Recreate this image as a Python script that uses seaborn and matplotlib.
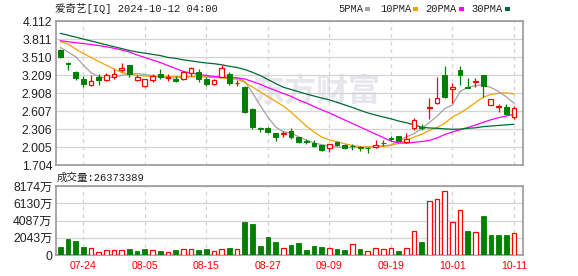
import numpy as np
import matplotlib
matplotlib.use("Agg")
import matplotlib.pyplot as plt
import matplotlib.transforms as mtransforms
import seaborn as sns
from matplotlib.patches import Rectangle

# ---------------- data ----------------
title = "爱奇艺[IQ] 2024-10-12 04:00"
vol_title = "成交量:26373389"
dates = ["07-19", "07-22", "07-23", "07-24", "07-25", "07-26", "07-29", "07-30", "07-31", "08-01",
         "08-02", "08-05", "08-06", "08-07", "08-08", "08-09", "08-12", "08-13", "08-14", "08-15",
         "08-16", "08-19", "08-20", "08-21", "08-22", "08-23", "08-26", "08-27", "08-28", "08-29",
         "08-30", "09-03", "09-04", "09-05", "09-06", "09-09", "09-10", "09-11", "09-12", "09-13",
         "09-16", "09-17", "09-18", "09-19", "09-20", "09-23", "09-24", "09-25", "09-26", "09-27",
         "09-30", "10-01", "10-02", "10-03", "10-04", "10-07", "10-08", "10-09", "10-10", "10-11"]
date_ticks = ["07-24", "08-05", "08-15", "08-27", "09-09", "09-19", "10-01", "10-11"]

open_ = [3.627, 3.415, 3.264, 3.142, 3.047, 3.170, 3.125, 3.170, 3.298, 3.376,
         3.125, 3.030, 3.125, 3.226, 3.165, 3.142, 3.137, 3.237, 3.259, 3.142,
         3.059, 3.181, 3.226, 3.070, 3.003, 2.636, 2.318, 2.328, 2.234, 2.223,
         2.278, 2.167, 2.100, 2.077, 2.039, 1.983, 2.083, 2.039, 2.030, 2.000,
         1.995, 2.000, 2.072, 2.150, 2.189, 2.094, 2.328, 2.340, 2.657, 2.746,
         3.209, 2.970, 3.298, 3.003, 3.097, 3.209, 2.707, 2.669, 2.679, 2.512]
high = [3.640, 3.432, 3.281, 3.192, 3.209, 3.226, 3.235, 3.304, 3.415, 3.380,
        3.209, 3.140, 3.226, 3.309, 3.226, 3.192, 3.270, 3.338, 3.309, 3.170,
        3.150, 3.376, 3.264, 3.125, 3.030, 2.652, 2.344, 2.340, 2.244, 2.268,
        2.318, 2.177, 2.134, 2.122, 2.045, 2.058, 2.111, 2.055, 2.055, 2.022,
        2.011, 2.122, 2.122, 2.194, 2.190, 2.234, 2.485, 2.390, 2.829, 3.181,
        3.360, 3.070, 3.360, 3.164, 3.154, 3.212, 2.806, 2.729, 2.724, 2.690]
low = [3.490, 3.293, 3.125, 3.013, 3.025, 3.042, 3.109, 3.142, 3.259, 3.181,
       3.104, 3.013, 3.092, 3.147, 3.109, 3.092, 3.130, 3.192, 3.098, 3.025,
       3.037, 3.170, 3.042, 3.025, 2.568, 2.306, 2.261, 2.234, 2.097, 2.172,
       2.139, 2.077, 2.055, 2.000, 1.938, 1.927, 2.022, 1.966, 1.955, 1.943,
       1.910, 1.986, 2.022, 2.111, 2.105, 2.077, 2.290, 2.290, 2.473, 2.729,
       2.819, 2.746, 3.042, 2.987, 3.008, 2.841, 2.704, 2.595, 2.540, 2.468]
close = [3.505, 3.388, 3.164, 3.053, 3.109, 3.125, 3.215, 3.232, 3.331, 3.226,
         3.170, 3.137, 3.192, 3.170, 3.175, 3.114, 3.264, 3.321, 3.137, 3.059,
         3.125, 3.321, 3.070, 3.081, 2.595, 2.345, 2.301, 2.261, 2.167, 2.234,
         2.167, 2.094, 2.083, 2.022, 1.955, 2.055, 2.039, 1.994, 2.022, 1.985,
         1.990, 2.039, 2.064, 2.139, 2.111, 2.139, 2.451, 2.328, 2.669, 2.819,
         2.846, 3.003, 3.204, 2.992, 3.114, 3.025, 2.803, 2.686, 2.562, 2.652]
volume_wan = [948, 1896, 1659, 948, 790, 356, 553, 553, 553, 711,
              474, 711, 553, 474, 316, 553, 672, 672, 553, 672,
              435, 672, 830, 672, 3911, 3713, 1067, 2133, 1541, 880,
              1185, 1461, 593, 1067, 948, 790, 711, 593, 1264, 711,
              435, 790, 672, 790, 474, 790, 2804, 1541, 6360, 6597,
              7545, 3871, 5293, 2844, 2686, 4621, 2370, 2370, 2370, 2637]
ma5 = [3.672, 3.594, 3.515, 3.376, 3.246, 3.184, 3.154, 3.179, 3.204, 3.226,
       3.234, 3.217, 3.199, 3.176, 3.154, 3.162, 3.171, 3.179, 3.189, 3.182,
       3.171, 3.169, 3.162, 3.156, 3.104, 2.911, 2.699, 2.507, 2.340, 2.259,
       2.239, 2.177, 2.122, 2.072, 2.044, 2.022, 2.005, 1.998, 1.995, 2.002,
       2.010, 2.017, 2.025, 2.039, 2.109, 2.172, 2.229, 2.309, 2.415, 2.518,
       2.649, 2.707, 2.933, 3.002, 3.032, 3.042, 3.000, 2.933, 2.845, 2.736]
ma10 = [3.769, 3.727, 3.644, 3.569, 3.502, 3.435, 3.371, 3.309, 3.251, 3.222,
        3.204, 3.192, 3.184, 3.181, 3.181, 3.181, 3.181, 3.181, 3.179, 3.176,
        3.167, 3.159, 3.146, 3.139, 3.084, 3.008, 2.928, 2.848, 2.769, 2.691,
        2.590, 2.473, 2.356, 2.256, 2.172, 2.125, 2.092, 2.059, 2.030, 2.013,
        2.000, 2.008, 2.017, 2.030, 2.067, 2.114, 2.172, 2.217, 2.284, 2.331,
        2.401, 2.507, 2.574, 2.657, 2.749, 2.838, 2.883, 2.903, 2.911, 2.891]
ma20 = [3.783, 3.766, 3.749, 3.736, 3.719, 3.702, 3.681, 3.656, 3.627, 3.594,
        3.544, 3.502, 3.460, 3.418, 3.368, 3.318, 3.268, 3.243, 3.221, 3.201,
        3.184, 3.176, 3.171, 3.162, 3.142, 3.100, 3.054, 3.000, 2.950, 2.900,
        2.853, 2.791, 2.741, 2.682, 2.627, 2.574, 2.515, 2.457, 2.398, 2.340,
        2.281, 2.222, 2.164, 2.105, 2.072, 2.069, 2.082, 2.097, 2.114, 2.156,
        2.214, 2.256, 2.294, 2.331, 2.373, 2.418, 2.460, 2.495, 2.523, 2.552]
ma30 = [3.906, 3.875, 3.843, 3.811, 3.778, 3.746, 3.714, 3.682, 3.651, 3.619,
        3.594, 3.574, 3.554, 3.534, 3.503, 3.487, 3.463, 3.445, 3.426, 3.410,
        3.398, 3.380, 3.355, 3.334, 3.301, 3.254, 3.201, 3.134, 3.067, 3.005,
        2.967, 2.930, 2.891, 2.858, 2.824, 2.794, 2.752, 2.709, 2.666, 2.619,
        2.574, 2.540, 2.507, 2.477, 2.440, 2.411, 2.376, 2.335, 2.323, 2.318,
        2.309, 2.301, 2.304, 2.318, 2.326, 2.346, 2.356, 2.365, 2.376, 2.385]
ma_names = ["5PMA", "10PMA", "20PMA", "30PMA"]
price_ticks = [1.704, 2.005, 2.306, 2.607, 2.908, 3.209, 3.510, 3.811, 4.112]
vol_ticks = [0, 2043.5, 4087, 6130.5, 8174]
vol_tick_labels = ["0", "2043万", "4087万", "6130万", "8174万"]

# ---------------- style ----------------
RED = "#ff0000"
GREEN = "#008000"
MA_COLORS = ["#a3a3a3", "#f5a200", "#ff00ff", "#006a35"]
GRID = "#d4d4d4"
FRAME = "#9a9a9a"

sns.set_theme(style="white")
plt.rcParams["font.family"] = ["Liberation Sans", "Noto Sans CJK SC", "DejaVu Sans"]

W, H = 578, 276
fig = plt.figure(figsize=(W / 100, H / 100), dpi=100)
fig.patch.set_facecolor("white")


def fx(px):
    return px / W


def fy(py):
    return 1 - py / H


ax = fig.add_axes([fx(56), fy(165), fx(522.7) - fx(56), fy(21) - fy(165)])
axv = fig.add_axes([fx(56), fy(255), fx(522.7) - fx(56), fy(186) - fy(255)])

n = len(dates)
idx = np.arange(n)
o = np.array(open_)
h = np.array(high)
l = np.array(low)
c = np.array(close)
v = np.array(volume_wan, dtype=float)
up = c >= o
dn = ~up

# ---------------- price panel ----------------
ax.text(0.558, 0.50, "东方财富", transform=ax.transAxes, ha="center", va="center",
        fontsize=23, fontweight="bold", color="#e6e6ec", zorder=0.5,
        family=["Noto Sans CJK SC"])

for ma, col in zip([ma5, ma10, ma20, ma30], MA_COLORS):
    sns.lineplot(x=idx, y=np.array(ma), ax=ax, color=col, linewidth=0.9,
                 legend=False, zorder=2)

# wicks
ax.vlines(idx[dn], l[dn], h[dn], color=GREEN, linewidth=0.9, zorder=3)
top = np.maximum(o, c)
bot = np.minimum(o, c)
ax.vlines(idx[up], top[up], h[up], color=RED, linewidth=0.9, zorder=3)
ax.vlines(idx[up], l[up], bot[up], color=RED, linewidth=0.9, zorder=3)
# bodies
bw = 0.62
ax.bar(idx[dn], (o - c)[dn], bottom=c[dn], width=bw, color=GREEN,
       edgecolor=GREEN, linewidth=0.7, zorder=4)
ax.bar(idx[up], (c - o)[up], bottom=o[up], width=bw, facecolor="white",
       edgecolor=RED, linewidth=0.9, zorder=4)

tick_pos = [dates.index(d) for d in date_ticks]
xlim = (-0.55, 60.14)
for a in (ax, axv):
    a.set_xlim(*xlim)
    a.set_xticks(tick_pos)
    a.xaxis.grid(True, color=GRID, linestyle=(0, (3, 3)), linewidth=0.9)
    a.yaxis.grid(True, color=GRID, linestyle="-", linewidth=0.9)
    a.set_axisbelow(True)
    a.tick_params(length=0)
    for s in a.spines.values():
        s.set_color(FRAME)
        s.set_linewidth(1.2)
    a.set_xlabel("")
    a.set_ylabel("")
    a.set_xticklabels([])

ax.set_ylim(1.704, 4.112)
ax.set_yticks(price_ticks)
ax.tick_params(axis="y", pad=2.6, labelsize=8.8, labelcolor="#222222")
ax.set_yticklabels([f"{t:.3f}" for t in price_ticks])

# ---------------- volume panel ----------------
prev = np.concatenate([[o[0]], c[:-1]])
vup = c >= prev
axv.bar(idx[~vup], v[~vup], width=0.61, color=GREEN, edgecolor=GREEN,
        linewidth=0.6, zorder=3)
axv.bar(idx[vup], v[vup], width=0.61, facecolor="white", edgecolor=RED,
        linewidth=0.9, zorder=3)
axv.set_ylim(0, 8174)
axv.set_yticks(vol_ticks)
axv.tick_params(axis="y", pad=2.6, labelsize=8.8, labelcolor="#222222")
axv.set_yticklabels(vol_tick_labels)

# red date labels below the volume panel
trans = mtransforms.blended_transform_factory(axv.transData, axv.transAxes)
for pos, lab in zip(tick_pos, date_ticks):
    axv.text(pos, -0.155, lab, transform=trans, ha="center", va="center",
             fontsize=7.6, color=RED, family=["Liberation Sans"], clip_on=False)

# ---------------- texts & legend ----------------
mono = ["Liberation Mono", "Noto Sans CJK SC"]
fig.text(fx(55), fy(8.8), title, ha="left", va="center", fontsize=7.6,
         color="#222222", family=mono)
fig.text(fx(57), fy(178), vol_title, ha="left", va="center", fontsize=7.6,
         color="#222222", family=mono)

leg_text_x = [338.7, 380.3, 425.3, 471.3]
leg_mark_x = [364.7, 413.0, 459.0, 504.7]
for name, col, tx, mx in zip(ma_names, MA_COLORS, leg_text_x, leg_mark_x):
    fig.text(fx(tx), fy(9.0), name, ha="left", va="center", fontsize=7.5,
             color="#222222", family=["Liberation Mono"])
    fig.patches.append(Rectangle((fx(mx), fy(10.5)), 5 / W, 3 / H,
                                 transform=fig.transFigure, facecolor=col,
                                 edgecolor="none"))

fig.savefig("out.png", dpi=100, facecolor="white")
